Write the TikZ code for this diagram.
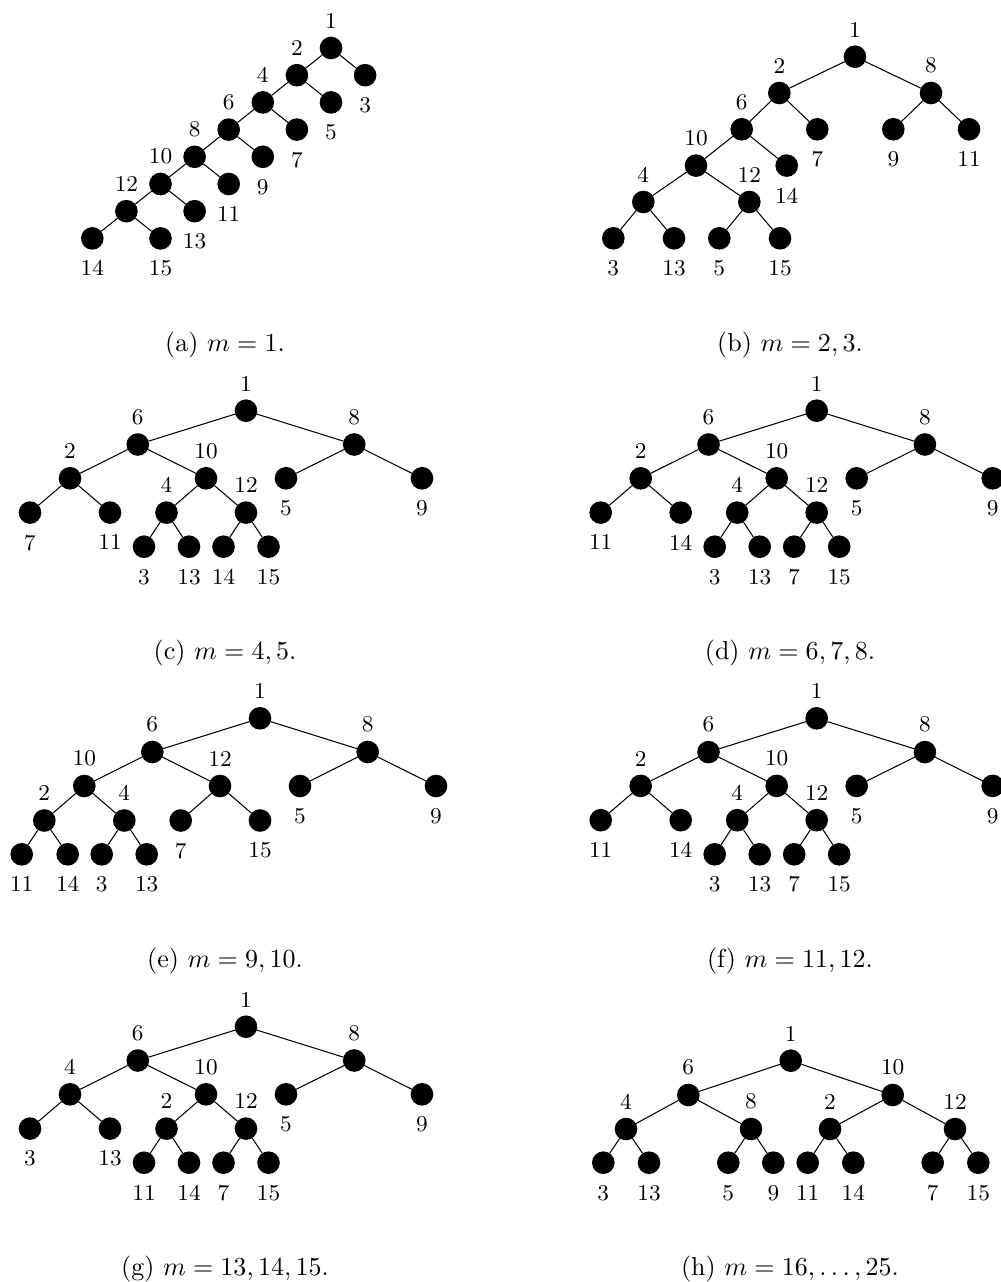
\documentclass[tikz,border=0pt]{standalone}
\begin{document}
\begin{tikzpicture}[x=0.3846pt, y=-0.3846pt,
  vtx/.style={circle, fill=black, minimum size=8.7pt, inner sep=0pt, outer sep=0pt},
  lbl/.style={font=\fontsize{8.7}{10}\selectfont, inner sep=0pt, outer sep=0pt},
  tu/.style={label={[lbl, label distance=3.2pt]90:#1}},
  td/.style={label={[lbl, label distance=4.2pt]-90:#1}},
  subcap/.style={anchor=base, inner sep=0pt},
  link/.style={line width=0.4pt}]
\useasboundingbox (0,0) rectangle (1000,1282);

% ---------- (a) m = 1 ----------
\node[vtx,tu=1]  (a1)  at (331,48) {};
\node[vtx,tu=2]  (a2)  at (296.9,75.2) {};
\node[vtx,td=3]  (a3)  at (365.1,75.2) {};
\node[vtx,tu=4]  (a4)  at (262.8,102.4) {};
\node[vtx,td=5]  (a5)  at (331,102.4) {};
\node[vtx,tu=6]  (a6)  at (228.7,129.6) {};
\node[vtx,td=7]  (a7)  at (296.9,129.6) {};
\node[vtx,tu=8]  (a8)  at (194.6,156.8) {};
\node[vtx,td=9]  (a9)  at (262.8,156.8) {};
\node[vtx,tu=10] (a10) at (160.5,184) {};
\node[vtx,td=11] (a11) at (228.7,184) {};
\node[vtx,tu=12] (a12) at (126.4,211.2) {};
\node[vtx,td=13] (a13) at (194.6,211.2) {};
\node[vtx,td=14] (a14) at (92.3,238.4) {};
\node[vtx,td=15] (a15) at (160.5,238.4) {};
\foreach \p/\c in {a1/a2,a1/a3,a2/a4,a2/a5,a4/a6,a4/a7,a6/a8,a6/a9,a8/a10,a8/a11,a10/a12,a10/a13,a12/a14,a12/a15}
  \draw[link] (\p) -- (\c);
\node[subcap] (capa) at (225,351) {(a)~$m=1$.};

% ---------- (b) m = 2,3 ----------
\node[vtx,tu=1]  (b1)  at (855,56.7) {};
\node[vtx,tu=2]  (b2)  at (779.3,93) {};
\node[vtx,tu=8]  (b8)  at (931,93) {};
\node[vtx,tu=6]  (b6)  at (741.7,129.3) {};
\node[vtx,td=7]  (b7)  at (817.3,129.3) {};
\node[vtx,td=9]  (b9)  at (893.3,129.3) {};
\node[vtx,td=11] (b11) at (969,129.3) {};
\node[vtx,tu=10] (b10) at (696,165.6) {};
\node[vtx,td=14] (b14) at (786.7,165.6) {};
\node[vtx,tu=4]  (b4)  at (643.3,202) {};
\node[vtx,tu=12] (b12) at (749.3,202) {};
\node[vtx,td=3]  (b3)  at (613.3,238.3) {};
\node[vtx,td=13] (b13) at (674,238.3) {};
\node[vtx,td=5]  (b5)  at (719.3,238.3) {};
\node[vtx,td=15] (b15) at (780,238.3) {};
\foreach \p/\c in {b1/b2,b1/b8,b2/b6,b2/b7,b8/b9,b8/b11,b6/b10,b6/b14,b10/b4,b10/b12,b4/b3,b4/b13,b12/b5,b12/b15}
  \draw[link] (\p) -- (\c);
\node[subcap] (capb) at (790,351) {(b)~$m=2,3$.};

% ---------- (c) m = 4,5 ----------
\node[vtx,tu=1]  (c1)  at (246,410.7) {};
\node[vtx,tu=6]  (c6)  at (137.8,444.5) {};
\node[vtx,tu=8]  (c8)  at (354.2,444.5) {};
\node[vtx,tu=2]  (c2)  at (70,478.3) {};
\node[vtx,tu=10] (c10) at (206,478.3) {};
\node[vtx,td=5]  (c5)  at (286,478.3) {};
\node[vtx,td=9]  (c9)  at (422,478.3) {};
\node[vtx,td=7]  (c7)  at (30,512.6) {};
\node[vtx,td=11] (c11) at (110,512.6) {};
\node[vtx,tu=4]  (c4)  at (166.5,512.6) {};
\node[vtx,tu=12] (c12) at (246,512.6) {};
\node[vtx,td=3]  (c3)  at (144,546.7) {};
\node[vtx,td=13] (c13) at (189,546.7) {};
\node[vtx,td=14] (c14) at (223.5,546.7) {};
\node[vtx,td=15] (c15) at (268.5,546.7) {};
\foreach \p/\c in {c1/c6,c1/c8,c6/c2,c6/c10,c8/c5,c8/c9,c2/c7,c2/c11,c10/c4,c10/c12,c4/c3,c4/c13,c12/c14,c12/c15}
  \draw[link] (\p) -- (\c);
\node[subcap] (capc) at (225,659) {(c)~$m=4,5$.};

% ---------- (d) m = 6,7,8 ----------
\begin{scope}[shift={(570.7,0)}]
\node[vtx,tu=1]  (d1)  at (246,410.7) {};
\node[vtx,tu=6]  (d6)  at (137.8,444.5) {};
\node[vtx,tu=8]  (d8)  at (354.2,444.5) {};
\node[vtx,tu=2]  (d2)  at (70,478.3) {};
\node[vtx,tu=10] (d10) at (206,478.3) {};
\node[vtx,td=5]  (d5)  at (286,478.3) {};
\node[vtx,td=9]  (d9)  at (422,478.3) {};
\node[vtx,td=11] (d11) at (30,512.6) {};
\node[vtx,td=14] (d14) at (110,512.6) {};
\node[vtx,tu=4]  (d4)  at (166.5,512.6) {};
\node[vtx,tu=12] (d12) at (246,512.6) {};
\node[vtx,td=3]  (d3)  at (144,546.7) {};
\node[vtx,td=13] (d13) at (189,546.7) {};
\node[vtx,td=7]  (d7)  at (223.5,546.7) {};
\node[vtx,td=15] (d15) at (268.5,546.7) {};
\end{scope}
\foreach \p/\c in {d1/d6,d1/d8,d6/d2,d6/d10,d8/d5,d8/d9,d2/d11,d2/d14,d10/d4,d10/d12,d4/d3,d4/d13,d12/d7,d12/d15}
  \draw[link] (\p) -- (\c);
\node[subcap] (capd) at (790,659) {(d)~$m=6,7,8$.};

% ---------- (e) m = 9,10 ----------
\node[vtx,tu=1]  (e1)  at (260,718.3) {};
\node[vtx,tu=6]  (e6)  at (152.3,752) {};
\node[vtx,tu=8]  (e8)  at (367.7,752) {};
\node[vtx,tu=10] (e10) at (84.3,786) {};
\node[vtx,tu=12] (e12) at (220,786) {};
\node[vtx,td=5]  (e5)  at (300,786) {};
\node[vtx,td=9]  (e9)  at (436,786) {};
\node[vtx,tu=2]  (e2)  at (44.3,820.5) {};
\node[vtx,tu=4]  (e4)  at (124.3,820.5) {};
\node[vtx,td=7]  (e7)  at (180.7,820.5) {};
\node[vtx,td=15] (e15) at (260,820.5) {};
\node[vtx,td=11] (e11) at (21.7,854.3) {};
\node[vtx,td=14] (e14) at (67.7,854.3) {};
\node[vtx,td=3]  (e3)  at (101.7,854.3) {};
\node[vtx,td=13] (e13) at (146.7,854.3) {};
\foreach \p/\c in {e1/e6,e1/e8,e6/e10,e6/e12,e8/e5,e8/e9,e10/e2,e10/e4,e12/e7,e12/e15,e2/e11,e2/e14,e4/e3,e4/e13}
  \draw[link] (\p) -- (\c);
\node[subcap] (cape) at (225,967) {(e)~$m=9,10$.};

% ---------- (f) m = 11,12 ----------
\begin{scope}[shift={(570.7,307.6)}]
\node[vtx,tu=1]  (f1)  at (246,410.7) {};
\node[vtx,tu=6]  (f6)  at (137.8,444.5) {};
\node[vtx,tu=8]  (f8)  at (354.2,444.5) {};
\node[vtx,tu=2]  (f2)  at (70,478.3) {};
\node[vtx,tu=10] (f10) at (206,478.3) {};
\node[vtx,td=5]  (f5)  at (286,478.3) {};
\node[vtx,td=9]  (f9)  at (422,478.3) {};
\node[vtx,td=11] (f11) at (30,512.6) {};
\node[vtx,td=14] (f14) at (110,512.6) {};
\node[vtx,tu=4]  (f4)  at (166.5,512.6) {};
\node[vtx,tu=12] (f12) at (246,512.6) {};
\node[vtx,td=3]  (f3)  at (144,546.7) {};
\node[vtx,td=13] (f13) at (189,546.7) {};
\node[vtx,td=7]  (f7)  at (223.5,546.7) {};
\node[vtx,td=15] (f15) at (268.5,546.7) {};
\end{scope}
\foreach \p/\c in {f1/f6,f1/f8,f6/f2,f6/f10,f8/f5,f8/f9,f2/f11,f2/f14,f10/f4,f10/f12,f4/f3,f4/f13,f12/f7,f12/f15}
  \draw[link] (\p) -- (\c);
\node[subcap] (capf) at (790,967) {(f)~$m=11,12$.};

% ---------- (g) m = 13,14,15 ----------
\begin{scope}[shift={(0,616)}]
\node[vtx,tu=1]  (g1)  at (246,410.7) {};
\node[vtx,tu=6]  (g6)  at (137.8,444.5) {};
\node[vtx,tu=8]  (g8)  at (354.2,444.5) {};
\node[vtx,tu=4]  (g4)  at (70,478.3) {};
\node[vtx,tu=10] (g10) at (206,478.3) {};
\node[vtx,td=5]  (g5)  at (286,478.3) {};
\node[vtx,td=9]  (g9)  at (422,478.3) {};
\node[vtx,td=3]  (g3)  at (30,512.6) {};
\node[vtx,td=13] (g13) at (110,512.6) {};
\node[vtx,tu=2]  (g2)  at (166.5,512.6) {};
\node[vtx,tu=12] (g12) at (246,512.6) {};
\node[vtx,td=11] (g11) at (144,546.7) {};
\node[vtx,td=14] (g14) at (189,546.7) {};
\node[vtx,td=7]  (g7)  at (223.5,546.7) {};
\node[vtx,td=15] (g15) at (268.5,546.7) {};
\end{scope}
\foreach \p/\c in {g1/g6,g1/g8,g6/g4,g6/g10,g8/g5,g8/g9,g4/g3,g4/g13,g10/g2,g10/g12,g2/g11,g2/g14,g12/g7,g12/g15}
  \draw[link] (\p) -- (\c);
\node[subcap] (capg) at (225,1275) {(g)~$m=13,14,15$.};

% ---------- (h) m = 16,...,25 ----------
\node[vtx,tu=1]  (h1)  at (790.7,1060.7) {};
\node[vtx,tu=6]  (h6)  at (688.3,1095) {};
\node[vtx,tu=10] (h10) at (892.7,1095) {};
\node[vtx,tu=4]  (h4)  at (626,1129) {};
\node[vtx,tu=8]  (h8)  at (751,1129) {};
\node[vtx,tu=2]  (h2)  at (830,1129) {};
\node[vtx,tu=12] (h12) at (955,1129) {};
\node[vtx,td=3]  (h3)  at (603.3,1162.7) {};
\node[vtx,td=13] (h13) at (649,1162.7) {};
\node[vtx,td=5]  (h5)  at (728.3,1162.7) {};
\node[vtx,td=9]  (h9)  at (773.3,1162.7) {};
\node[vtx,td=11] (h11) at (807.7,1162.7) {};
\node[vtx,td=14] (h14) at (853.3,1162.7) {};
\node[vtx,td=7]  (h7)  at (932.7,1162.7) {};
\node[vtx,td=15] (h15) at (978.3,1162.7) {};
\foreach \p/\c in {h1/h6,h1/h10,h6/h4,h6/h8,h10/h2,h10/h12,h4/h3,h4/h13,h8/h5,h8/h9,h2/h11,h2/h14,h12/h7,h12/h15}
  \draw[link] (\p) -- (\c);
\node[subcap] (caph) at (790,1275) {(h)~$m=16,\ldots,25$.};
\end{tikzpicture}
\end{document}
